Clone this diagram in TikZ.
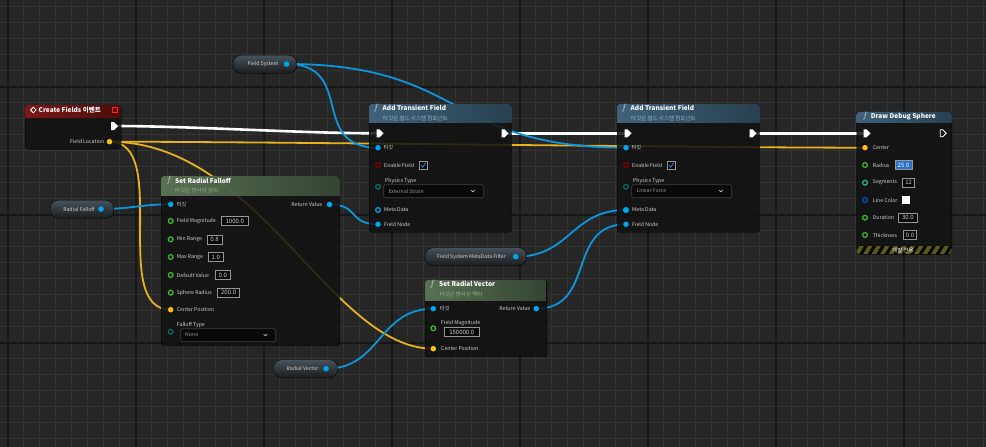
\documentclass[tikz,border=0pt]{standalone}
\usepackage{fontspec}
\setmainfont{Noto Sans CJK KR}
\usetikzlibrary{shapes.symbols}

\definecolor{bgcol}{RGB}{38,38,38}
\definecolor{gridthin}{RGB}{52,52,52}
\definecolor{gridthick}{RGB}{22,22,22}
\definecolor{bodycol}{RGB}{17,18,17}
\definecolor{wireblue}{RGB}{12,150,220}
\definecolor{pinblue}{RGB}{0,166,240}
\definecolor{wireyellow}{RGB}{232,178,30}
\definecolor{pinyellow}{RGB}{250,190,20}
\definecolor{floatgreen}{RGB}{60,190,45}
\definecolor{enumteal}{RGB}{0,110,100}
\definecolor{intteal}{RGB}{30,185,150}
\definecolor{boolred}{RGB}{140,0,0}
\definecolor{structblue}{RGB}{10,80,200}
\definecolor{labelgray}{RGB}{210,210,210}
\definecolor{boxgray}{RGB}{150,150,150}
\definecolor{headred1}{RGB}{140,24,24}
\definecolor{headred2}{RGB}{80,12,12}
\definecolor{headgreen1}{RGB}{100,130,94}
\definecolor{headgreen2}{RGB}{58,78,56}
\definecolor{headblue1}{RGB}{72,112,140}
\definecolor{headblue2}{RGB}{44,72,92}
\definecolor{subgreen}{RGB}{150,175,140}
\definecolor{subblue}{RGB}{150,180,200}
\definecolor{checkblue}{RGB}{40,130,230}
\definecolor{radiusblue}{RGB}{40,110,205}
\definecolor{hazard}{RGB}{92,88,30}

\newcommand{\bptitle}{\fontsize{6.5}{7}\selectfont\bfseries}
\newcommand{\bpsub}{\fontsize{5.5}{6}\selectfont}
\newcommand{\bplabel}{\fontsize{5.2}{6}\selectfont}
\newcommand{\bpvalue}{\fontsize{6}{7}\selectfont}

\pgfdeclarelayer{grid}
\pgfdeclarelayer{wires}
\pgfsetlayers{grid,wires,main}

\begin{document}
\begin{tikzpicture}[x=1pt, y=-1pt]
    \tikzstyle{grid_thin} = [gridthin, line width=1.3]
    \tikzstyle{grid_thick} = [gridthick, line width=1.7]
    \tikzstyle{bp_body} = [draw=black, fill=bodycol, fill opacity=0.86, rounded corners=3, anchor=north west, inner sep=0]
    \tikzstyle{head_red} = [left color=headred1, right color=headred2, fill opacity=0.9]
    \tikzstyle{head_green} = [left color=headgreen1, right color=headgreen2, fill opacity=0.85]
    \tikzstyle{head_blue} = [left color=headblue1, right color=headblue2, fill opacity=0.85]
    \tikzstyle{var_node} = [draw=black, top color={rgb,255:red,70;green,82;blue,92}, bottom color={rgb,255:red,26;green,28;blue,31}, rounded corners=8, anchor=north west, inner sep=0, minimum height=18]
    \tikzstyle{title_text} = [text=white, anchor=west, inner sep=0, font=\bptitle]
    \tikzstyle{sub_text} = [anchor=west, inner sep=0, font=\bpsub]
    \tikzstyle{fsym} = [text=labelgray, inner sep=0, font=\small]
    \tikzstyle{pin_label} = [text=labelgray, anchor=west, inner sep=0, font=\bplabel]
    \tikzstyle{var_text} = [text=labelgray, inner sep=0, font=\bplabel]
    \tikzstyle{pin_blue} = [circle, fill=pinblue, inner sep=0, minimum size=5.5]
    \tikzstyle{pin_yellow} = [circle, fill=pinyellow, inner sep=0, minimum size=5.5]
    \tikzstyle{pin_open} = [circle, line width=1.2, inner sep=0, minimum size=4.8]
    \tikzstyle{exec_pin} = [signal, signal to=east, fill=white, inner sep=0, minimum width=7, minimum height=8]
    \tikzstyle{value_box} = [draw=boxgray, line width=0.6, fill=black, fill opacity=0.6, text opacity=1, text=labelgray, inner sep=0, anchor=west, minimum height=9, font=\bpvalue]
    \tikzstyle{drop_box} = [draw={rgb,255:red,62;green,62;blue,62}, line width=0.7, fill=black, fill opacity=0.5, rounded corners=1.5, anchor=north west, inner sep=0, minimum height=13]
    \tikzstyle{wire_exec} = [white, line width=2.6]
    \tikzstyle{wire_blue} = [wireblue, line width=1.8]
    \tikzstyle{wire_yellow} = [wireyellow, line width=1.8]

    \useasboundingbox (0,0) rectangle (986,447);

    % graph background
    \begin{pgfonlayer}{grid}
        \fill[bgcol] (0,0) rectangle (986,447);
        \foreach \i in {0,...,61} \draw[grid_thin] ({7.7+16*\i},0) -- ({7.7+16*\i},447);
        \foreach \i in {0,...,27} \draw[grid_thin] (0,{6.7+16*\i}) -- (986,{6.7+16*\i});
        \foreach \i in {0,...,7} \draw[grid_thick] ({7.7+128*\i},0) -- ({7.7+128*\i},447);
        \foreach \i in {0,...,2} \draw[grid_thick] (0,{86.7+128*\i}) -- (986,{86.7+128*\i});
    \end{pgfonlayer}

    % Create Fields event
    \node[bp_body, minimum width=96, minimum height=44] (cf) at (25,105) {};
    \begin{scope}
        \clip[rounded corners=3] (25,105) rectangle (121,149);
        \shade[head_red] (25,105) rectangle (121,117);
    \end{scope}
    \draw[white, line width=0.8] (30.5,110) -- (33.3,107.2) -- (36.1,110) -- (33.3,112.8) -- cycle;
    \node[title_text] (cf_title) at (38.5,110) {Create Fields 이벤트};
    \node[draw=red!85!white, fill=red!40!black, line width=0.7, minimum size=4.5, inner sep=0] (cf_box) at (115,110) {};
    \node[exec_pin] (cf_exec) at (112.5,126) {};
    \node[pin_label, anchor=east] (cf_loc_txt) at (104.5,141.7) {Field Location};
    \node[pin_yellow] (cf_loc) at (109.5,141.7) {};

    % variable getters
    \node[var_node, minimum width=63.5] (fsys) at (233,55) {};
    \node[var_text] (fsys_txt) at (263,64) {Field System};
    \node[pin_blue] (fsys_pin) at (286.5,64) {};

    \node[var_node, minimum width=63.5] (rfall) at (50,200) {};
    \node[var_text] (rfall_txt) at (79,209) {Radial Falloff};
    \node[pin_blue] (rfall_pin) at (101,209) {};

    \node[var_node, minimum width=101.5] (mdf) at (425,247.5) {};
    \node[var_text] (mdf_txt) at (471.5,256.7) {Field System MetaData Filter};
    \node[pin_blue] (mdf_pin) at (515.7,256.7) {};

    \node[var_node, minimum width=64] (rvec) at (273.3,359.5) {};
    \node[var_text] (rvec_txt) at (302.5,368.7) {Radial Vector};
    \node[pin_blue] (rvec_pin) at (326,368.7) {};

    % Set Radial Falloff
    \node[bp_body, minimum width=178.5, minimum height=169.5] (srf) at (161,176) {};
    \begin{scope}
        \clip[rounded corners=3] (161,176) rectangle (339.5,345.5);
        \shade[head_green] (161,176) rectangle (339.5,195);
    \end{scope}
    \node[fsym] (srf_f) at (169,180.5) {$f$};
    \node[title_text] (srf_title) at (175,180.5) {Set Radial Falloff};
    \node[sub_text, text=subgreen] (srf_sub) at (175,190.5) {타깃은 방사상 감쇠};
    \node[pin_blue] (srf_target) at (170.7,204.3) {};
    \node[pin_label] (srf_target_txt) at (176.7,204.3) {타깃};
    \node[pin_label, anchor=east] (srf_ret_txt) at (322.5,204.5) {Return Value};
    \node[pin_blue] (srf_ret) at (329.5,204.5) {};
    \foreach \y/\lab/\val/\bx/\bw [count=\i] in {221/Field Magnitude/1000.0/221/27, 239.3/Min Range/0.8/207/14.5, 257/Max Range/1.0/208/15, 275/Default Value/0.0/215/15, 292.7/Sphere Radius/200.0/217.3/22} {
        \node[pin_open, draw=floatgreen] (srf_p\i) at (170.7,\y) {};
        \node[pin_label] (srf_l\i) at (176.7,\y) {\lab};
        \node[value_box, minimum width=\bw] (srf_v\i) at (\bx,\y) {\val};
    }
    \node[pin_yellow] (srf_center) at (170.7,309.7) {};
    \node[pin_label] (srf_center_txt) at (176.7,309.7) {Center Position};
    \node[pin_label] (srf_type_txt) at (176.7,325) {Falloff Type};
    \node[pin_open, draw=enumteal] (srf_type) at (170.7,331.7) {};
    \node[drop_box, minimum width=95] (srf_drop) at (180.3,328.3) {};
    \node[pin_label, text=boxgray] (srf_drop_txt) at (185,335) {None};
    \draw[labelgray, line width=0.7] (263.5,334) -- (265.3,335.8) -- (267.1,334);

    % Add Transient Field (two of them)
    \foreach \dx/\nm/\phys/\mdfill in {0/atfa/External Strain/none, 248/atfb/Linear Force/pinblue} {
        \node[bp_body, minimum width=142.5, minimum height=128] (\nm) at ({369+\dx},104) {};
        \begin{scope}
            \clip[rounded corners=3] ({369+\dx},104) rectangle ({511.5+\dx},232);
            \shade[head_blue] ({369+\dx},104) rectangle ({511.5+\dx},122.3);
        \end{scope}
        \node[fsym] (\nm_f) at ({376+\dx},108.3) {$f$};
        \node[title_text] (\nm_title) at ({382.5+\dx},108.3) {Add Transient Field};
        \node[sub_text, text=subblue] (\nm_sub) at ({383+\dx},118.5) {타깃은 필드 시스템 컴포넌트};
        \node[exec_pin] (\nm_in) at ({378+\dx},133.3) {};
        \node[exec_pin] (\nm_out) at ({503+\dx},133.3) {};
        \node[pin_blue] (\nm_target) at ({378+\dx},147.7) {};
        \node[pin_label] (\nm_target_txt) at ({383.5+\dx},147.7) {타깃};
        \node[pin_open, draw=boolred] (\nm_en) at ({378+\dx},165) {};
        \node[pin_label] (\nm_en_txt) at ({384+\dx},165) {Enable Field};
        \node[draw=boxgray, line width=0.6, fill=black, minimum size=7.5, inner sep=0, anchor=north west] (\nm_chk) at ({419.3+\dx},161.3) {};
        \draw[checkblue, line width=0.9] ({421+\dx},165.3) -- ({422.8+\dx},167.2) -- ({425.8+\dx},162.6);
        \node[pin_label] (\nm_phys_txt) at ({385+\dx},181) {Physics Type};
        \node[pin_open, draw=enumteal] (\nm_phys) at ({378+\dx},186.7) {};
        \node[drop_box, minimum width=100] (\nm_drop) at ({383.3+\dx},184.3) {};
        \node[pin_label, text=boxgray] (\nm_drop_txt) at ({388.3+\dx},191) {\phys};
        \draw[labelgray, line width=0.7] ({471+\dx},190) -- ({472.8+\dx},191.8) -- ({474.6+\dx},190);
        \node[pin_open, draw=pinblue, fill=\mdfill] (\nm_md) at ({378+\dx},210) {};
        \node[pin_label] (\nm_md_txt) at ({384+\dx},210) {Meta Data};
        \node[pin_blue] (\nm_node) at ({378+\dx},224.3) {};
        \node[pin_label] (\nm_node_txt) at ({384+\dx},224.3) {Field Node};
    }

    % Draw Debug Sphere
    \node[bp_body, minimum width=95, minimum height=142.5] (dds) at (856.7,111.7) {};
    \begin{scope}
        \clip[rounded corners=3] (856.7,111.7) rectangle (951.7,254.2);
        \shade[head_blue] (856.7,111.7) rectangle (951.7,122);
        \fill[black, fill opacity=0.7] (856.7,246) rectangle (951.7,254.2);
        \foreach \k in {0,...,12} \fill[hazard] ({846+8.5*\k},254.2) -- ++(4.5,0) -- ++(5,-8.2) -- ++(-4.5,0) -- cycle;
    \end{scope}
    \node[fsym] (dds_f) at (865,116.7) {$f$};
    \node[title_text] (dds_title) at (870.7,116.7) {Draw Debug Sphere};
    \node[exec_pin] (dds_in) at (865,133.3) {};
    \node[exec_pin, fill=none, draw=white, line width=0.8, minimum width=6, minimum height=7] (dds_out) at (941.5,133.3) {};
    \node[pin_yellow] (dds_center) at (865,147.7) {};
    \node[pin_label] (dds_center_txt) at (872.7,147.7) {Center};
    \foreach \y/\lab/\col [count=\i] in {165/Radius/floatgreen, 182.7/Segments/intteal, 200/Line Color/structblue, 217.7/Duration/floatgreen, 235/Thickness/floatgreen} {
        \node[pin_open, draw=\col] (dds_p\i) at (865,\y) {};
        \node[pin_label] (dds_l\i) at (872.7,\y) {\lab};
    }
    \node[value_box, fill=radiusblue, fill opacity=1, minimum width=17.5, text=white] (dds_v1) at (894.5,165) {25.0};
    \node[value_box, minimum width=12] (dds_v2) at (902.3,182.7) {12};
    \node[fill=white, minimum size=8, inner sep=0] (dds_v3) at (906.3,200) {};
    \node[value_box, minimum width=18.5] (dds_v4) at (898.3,217.7) {30.0};
    \node[value_box, minimum width=13] (dds_v5) at (903.3,235) {0.0};
    \node[pin_label, text=white, font=\bpsub] (dds_dev) at (892,250.3) {개발 전용};

    % Set Radial Vector
    \node[bp_body, minimum width=121.7, minimum height=76.5] (srv) at (425,280) {};
    \begin{scope}
        \clip[rounded corners=3] (425,280) rectangle (546.7,356.5);
        \shade[head_green] (425,280) rectangle (546.7,300);
    \end{scope}
    \node[fsym] (srv_f) at (432.3,284.3) {$f$};
    \node[title_text] (srv_title) at (439,284.3) {Set Radial Vector};
    \node[sub_text, text=subgreen] (srv_sub) at (439.3,294.3) {타깃은 방사상 벡터};
    \node[pin_blue] (srv_target) at (433.3,308.7) {};
    \node[pin_label] (srv_target_txt) at (440,308.7) {타깃};
    \node[pin_label, anchor=east] (srv_ret_txt) at (530.5,308.7) {Return Value};
    \node[pin_blue] (srv_ret) at (536.3,308.7) {};
    \node[pin_label] (srv_mag_txt) at (441,323.5) {Field Magnitude};
    \node[pin_open, draw=floatgreen] (srv_mag) at (433.3,328.3) {};
    \node[value_box, minimum width=35] (srv_mag_v) at (444,332) {150000.0};
    \node[pin_yellow] (srv_center) at (433.3,348.7) {};
    \node[pin_label] (srv_center_txt) at (441,348.7) {Center Position};

    % wires
    \begin{pgfonlayer}{wires}
        \draw[wire_exec] (cf_exec.center) .. controls +(80,0) and +(-80,0) .. (atfa_in.center);
        \draw[wire_exec] (atfa_out.center) -- (atfb_in.center);
        \draw[wire_exec] (atfb_out.center) -- (dds_in.center);
        \draw[wire_yellow] (cf_loc.center) .. controls +(160,0) and +(-160,0) .. (dds_center.center);
        \draw[wire_yellow] (cf_loc.center) .. controls +(62,0) and +(-62,0) .. (srf_center.center);
        \draw[wire_yellow] (cf_loc.center) .. controls +(150,0) and +(-103,0) .. (srv_center.center);
        \draw[wire_blue] (fsys_pin.center) .. controls +(70,0) and +(-70,0) .. (atfa_target.center);
        \draw[wire_blue] (fsys_pin.center) .. controls +(180,0) and +(-180,0) .. (atfb_target.center);
        \draw[wire_blue] (rfall_pin.center) .. controls +(30,0) and +(-30,0) .. (srf_target.center);
        \draw[wire_blue] (srf_ret.center) .. controls +(30,0) and +(-30,0) .. (atfa_node.center);
        \draw[wire_blue] (mdf_pin.center) .. controls +(55,0) and +(-55,0) .. (atfb_md.center);
        \draw[wire_blue] (srv_ret.center) .. controls +(60,0) and +(-60,0) .. (atfb_node.center);
        \draw[wire_blue] (rvec_pin.center) .. controls +(55,0) and +(-55,0) .. (srv_target.center);
    \end{pgfonlayer}
\end{tikzpicture}
\end{document}
